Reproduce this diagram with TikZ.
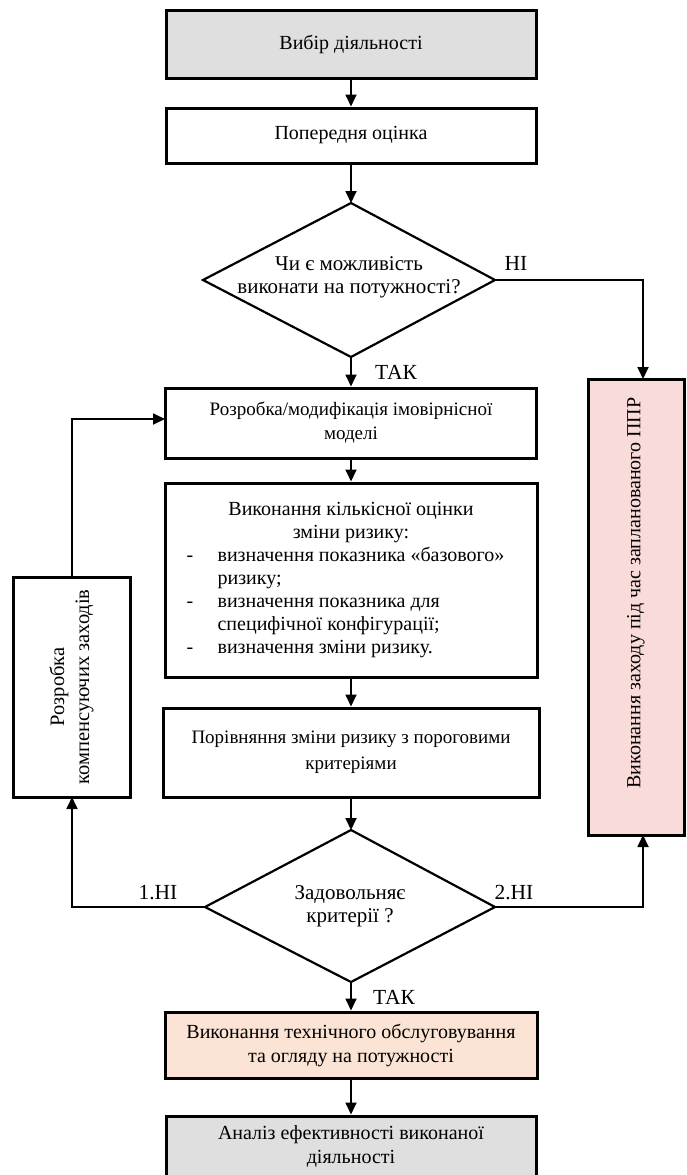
\documentclass[tikz,border=0pt]{standalone}
\usepackage{fontspec}
\setmainfont{Liberation Serif}
\usetikzlibrary{arrows.meta}
\definecolor{grayfill}{HTML}{DFDFDF}
\definecolor{peach}{HTML}{FBE4D5}
\definecolor{pinkfill}{HTML}{F9DCDA}
\begin{document}
\begin{tikzpicture}[x=1pt,y=-1pt,
  box/.style={draw, line width=3pt, align=center, inner sep=0pt, font=\fontsize{20}{24}\selectfont},
  conn/.style={line width=1.8pt, -{Triangle[length=12pt,width=11pt]}},
  dia/.style={draw, line width=2.2pt, fill=white},
  txt/.style={align=center, inner sep=0pt, font=\fontsize{21}{23}\selectfont},
  lab/.style={inner sep=0pt, font=\fontsize{21.5}{22}\selectfont}]
\useasboundingbox[fill=white] (0,0) rectangle (686,1175);

% main column boxes
\node[box, fill=grayfill, minimum width=370pt, minimum height=68pt] (b1) at (351,44) {Вибір діяльності};
\node[box, minimum width=370pt, minimum height=55pt] (b2) at (351,135.5) {Попередня оцінка};

% decision 1
\coordinate (d1n) at (351,203);
\coordinate (d1s) at (351,357);
\coordinate (d1w) at (203,280);
\coordinate (d1e) at (495,280);
\draw[dia] (d1n) -- (d1e) -- (d1s) -- (d1w) -- cycle;
\node[txt] (d1) at (349,277) {Чи є можливість\\виконати на потужності?};

\node[box, font=\fontsize{19}{24}\selectfont, minimum width=371pt, minimum height=70pt] (b3) at (351,423) {Розробка/модифікація імовірнісної\\моделі};

\node[box, minimum width=372pt, minimum height=194pt] (b4) at (351,580) {\fontsize{20}{23}\selectfont\begin{tabular}{@{}p{31pt}@{}l@{\hspace{11pt}}}
\multicolumn{2}{c}{Виконання кількісної оцінки}\\
\multicolumn{2}{c}{зміни ризику:}\\
-& визначення показника «базового»\\
 & ризику;\\
-& визначення показника для\\
 & специфічної конфігурації;\\
-& визначення зміни ризику.
\end{tabular}};

\node[box, font=\fontsize{19}{26}\selectfont, minimum width=376pt, minimum height=89pt] (b5) at (351,752.5) {Порівняння зміни ризику з пороговими\\критеріями};

% decision 2
\coordinate (d2n) at (351,830);
\coordinate (d2s) at (351,982);
\coordinate (d2w) at (205,907);
\coordinate (d2e) at (495,907);
\draw[dia] (d2n) -- (d2e) -- (d2s) -- (d2w) -- cycle;
\node[txt] (d2) at (350,906) {Задовольняє\\критерії ?};

\node[box, fill=peach, minimum width=372pt, minimum height=66pt] (b6) at (351,1045) {Виконання технічного обслуговування\\та огляду на потужності};
\node[box, fill=grayfill, minimum width=370pt, minimum height=61pt] (b7) at (351,1146.5) {Аналіз ефективності виконаної\\діяльності};

% side boxes
\node[box, font=\fontsize{20.5}{25}\selectfont, minimum width=220pt, minimum height=117pt, rotate=90] (lbox) at (71.5,687) {Розробка\\компенсуючих заходів};
\node[box, fill=pinkfill, minimum width=456pt, minimum height=96pt, rotate=90] (rbox) at (636,607) {\hspace*{28pt}Виконання заходу під час запланованого ППР};

% connectors
\draw[conn] (b1.south) -- (b2.north);
\draw[conn] (b2.south) -- (d1n);
\draw[conn] (d1s) -- (b3.north);
\draw[conn] (b3.south) -- (b4.north);
\draw[conn] (b4.south) -- (b5.north);
\draw[conn] (b5.south) -- (d2n);
\draw[conn] (d2s) -- (b6.north);
\draw[conn] (b6.south) -- (b7.north);
\coordinate (rin) at (643,379);
\coordinate (rout) at (643,835);
\draw[conn] (d1e) -| (rin);
\draw[conn] (d2e) -| (rout);
\coordinate (lin) at (72,797);
\coordinate (lout) at (72,577);
\coordinate (b3in) at (165,419);
\draw[conn] (d2w) -| (lin);
\draw[conn] (lout) |- (b3in);

% labels
\node[lab] (l1) at (516,263) {НІ};
\node[lab] (l2) at (396,372) {ТАК};
\node[lab] (l3) at (158,893) {1.НІ};
\node[lab] (l4) at (514,893) {2.НІ};
\node[lab] (l5) at (394,997) {ТАК};
\end{tikzpicture}
\end{document}
